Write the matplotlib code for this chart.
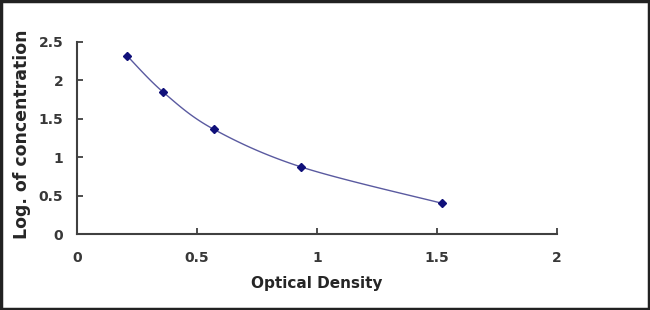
import numpy as np
import matplotlib
matplotlib.use("Agg")
import matplotlib.pyplot as plt
from matplotlib.patches import Rectangle

od = [0.21, 0.36, 0.57, 0.935, 1.52]
log_conc = [2.31, 1.84, 1.36, 0.87, 0.40]
x_ticks = [0, 0.5, 1, 1.5, 2]
y_ticks = [0, 0.5, 1, 1.5, 2, 2.5]
x_tick_labels = ["0", "0.5", "1", "1.5", "2"]
y_tick_labels = ["0", "0.5", "1", "1.5", "2", "2.5"]

plt.rcParams['font.family'] = ['DejaVu Sans']

def smooth_curve(xs, ys, n=30):
    # Excel-like smoothed line via Catmull-Rom Bezier segments
    P = np.column_stack([xs, ys]).astype(float)
    pts = []
    for i in range(len(P) - 1):
        p0 = P[i - 1] if i > 0 else P[i]
        p1 = P[i]
        p2 = P[i + 1]
        p3 = P[i + 2] if i + 2 < len(P) else P[i + 1]
        c1 = p1 + (p2 - p0) / 6.0
        c2 = p2 - (p3 - p1) / 6.0
        t = np.linspace(0, 1, n)[:, None]
        seg = ((1 - t) ** 3) * p1 + 3 * ((1 - t) ** 2) * t * c1 + 3 * (1 - t) * t ** 2 * c2 + t ** 3 * p2
        pts.append(seg if i == 0 else seg[1:])
    s = np.vstack(pts)
    return s[:, 0], s[:, 1]

fig = plt.figure(figsize=(6.5, 3.1), dpi=100)
ax = fig.add_axes([0.1185, 0.245, 0.7385, 0.621])

sx, sy = smooth_curve(od, log_conc)
ax.plot(sx, sy, color='#5a5aa0', lw=1.0, zorder=2)
ax.plot(od, log_conc, linestyle='none', marker='D', markersize=4.5,
        color='#10107a', zorder=3)

ax.set_xlim(0, 2)
ax.set_ylim(0, 2.5)
ax.set_xticks(x_ticks)
ax.set_xticklabels(x_tick_labels)
ax.set_yticks(y_ticks)
ax.set_yticklabels(y_tick_labels)
for s in ['top', 'right']:
    ax.spines[s].set_visible(False)
for s in ['left', 'bottom']:
    ax.spines[s].set_linewidth(1.5)
    ax.spines[s].set_color('#404040')
ax.tick_params(direction='in', length=4, width=1.3, color='#404040',
               labelsize=10, labelcolor='#383838')
ax.tick_params(axis='x', pad=12)
ax.tick_params(axis='y', pad=10)
for lab in ax.get_xticklabels() + ax.get_yticklabels():
    lab.set_fontweight('bold')

fig.text(0.488, 0.087, 'Optical Density', ha='center', va='center',
         fontsize=11, fontweight='bold', color='#262626')
fig.text(0.034, 0.567, 'Log. of concentration', ha='center', va='center',
         rotation=90, fontsize=12.5, fontweight='bold', color='#262626')

fig.patches.append(Rectangle((0.002, 0.004), 0.996, 0.992, transform=fig.transFigure,
                             fill=False, edgecolor='#222222', lw=2.5))

fig.savefig('out.png', dpi=100, facecolor='white')
